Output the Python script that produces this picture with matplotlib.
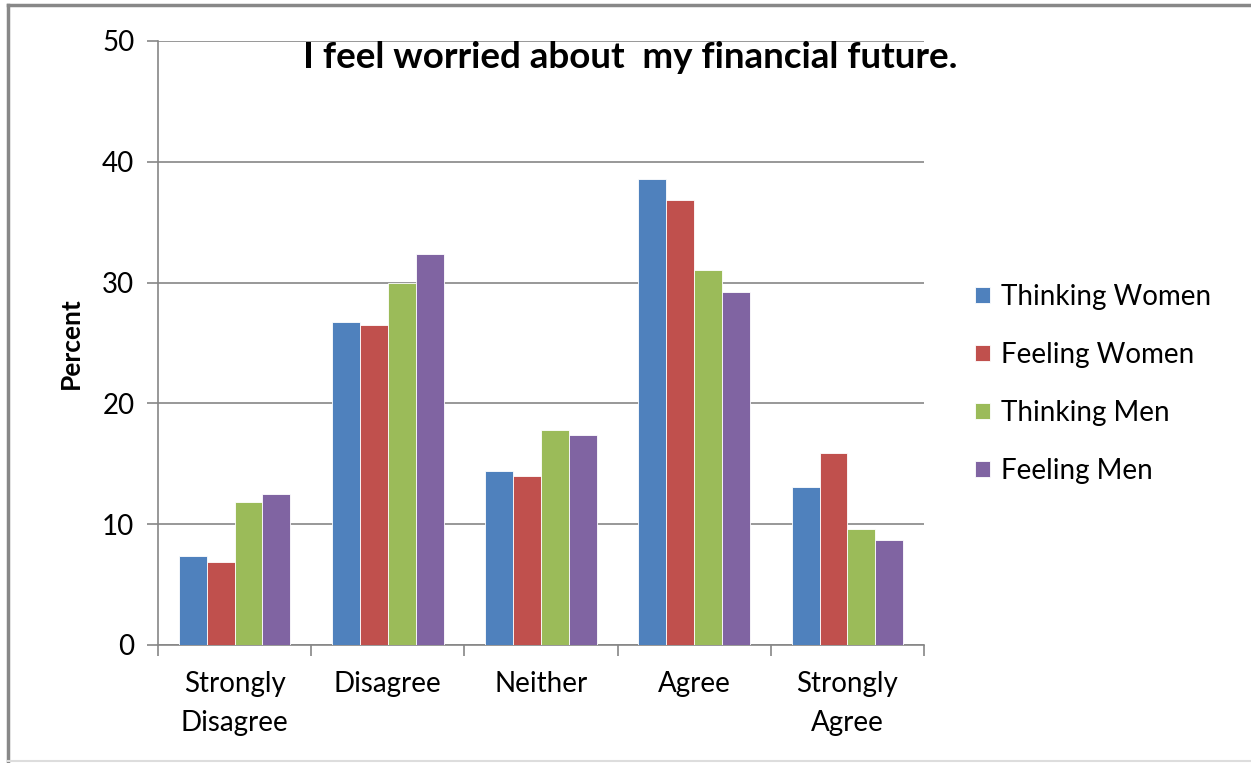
import numpy as np
import matplotlib
matplotlib.use("Agg")
import matplotlib.pyplot as plt
from matplotlib.lines import Line2D

categories = ["Strongly\nDisagree", "Disagree", "Neither", "Agree", "Strongly\nAgree"]
series_names = ["Thinking Women", "Feeling Women", "Thinking Men", "Feeling Men"]
thinking_women = [7.4, 26.7, 14.4, 38.6, 13.1]
feeling_women = [6.9, 26.5, 14.0, 36.8, 15.9]
thinking_men = [11.8, 30.0, 17.8, 31.0, 9.6]
feeling_men = [12.5, 32.4, 17.4, 29.2, 8.7]
colors = ["#4F81BD", "#C0504D", "#9BBB59", "#8064A2"]

plt.rcParams['font.family'] = ['Lato', 'DejaVu Sans']

fig = plt.figure(figsize=(12.51, 7.63), dpi=100)
ax = fig.add_axes([0.1263, 0.1547, 0.6123, 0.7916])

x = np.arange(len(categories))
bar_w = 1 / 5.5
all_series = [thinking_women, feeling_women, thinking_men, feeling_men]
for i, vals in enumerate(all_series):
    offs = (i - 1.5) * bar_w
    ax.bar(x + offs, vals, width=bar_w, color=colors[i], label=series_names[i],
           edgecolor="white", linewidth=0.6, zorder=3)

grid_c = "#868686"
ax.set_xlim(-0.5, len(categories) - 0.5)
ax.set_ylim(0, 50)
ax.set_yticks(range(0, 51, 10))
ax.yaxis.grid(True, color=grid_c, linewidth=1.2, zorder=0)
ax.set_xticks(x)
ax.set_xticklabels(categories, fontsize=20, linespacing=1.6)
ax.tick_params(axis="x", length=0, pad=19)
# group boundary ticks
ax.set_xticks(np.arange(-0.5, len(categories)), minor=True)
ax.tick_params(axis="x", which="minor", length=8, color=grid_c, width=1.2)
ax.tick_params(axis="y", length=8, color=grid_c, width=1.2, labelsize=20, pad=9)

for s in ["top", "right"]:
    ax.spines[s].set_visible(False)
for s in ["left", "bottom"]:
    ax.spines[s].set_color(grid_c)
    ax.spines[s].set_linewidth(1.2)

ax.set_ylabel("Percent", fontsize=19, fontweight="bold", labelpad=14)
ax.text(0.616, 0.972, "I feel worried about  my financial future.", transform=ax.transAxes,
        ha="center", va="center", fontsize=26.5, fontweight="bold")

fig.legend(loc="center left", bbox_to_anchor=(0.759, 0.497), frameon=False,
           fontsize=20, handlelength=0.55, handleheight=0.55, handletextpad=0.4,
           labelspacing=1.15)

# outer frame of the chart
fig.add_artist(Line2D([0.0066, 1.0], [0.9934, 0.9934], color="#888888", linewidth=2.5))
fig.add_artist(Line2D([0.0066, 0.0066], [0.9934, 0.0], color="#888888", linewidth=2.5))
fig.add_artist(Line2D([0.0066, 1.0], [0.003, 0.003], color="#dddddd", linewidth=1.5))

fig.savefig("out.png", dpi=100)
